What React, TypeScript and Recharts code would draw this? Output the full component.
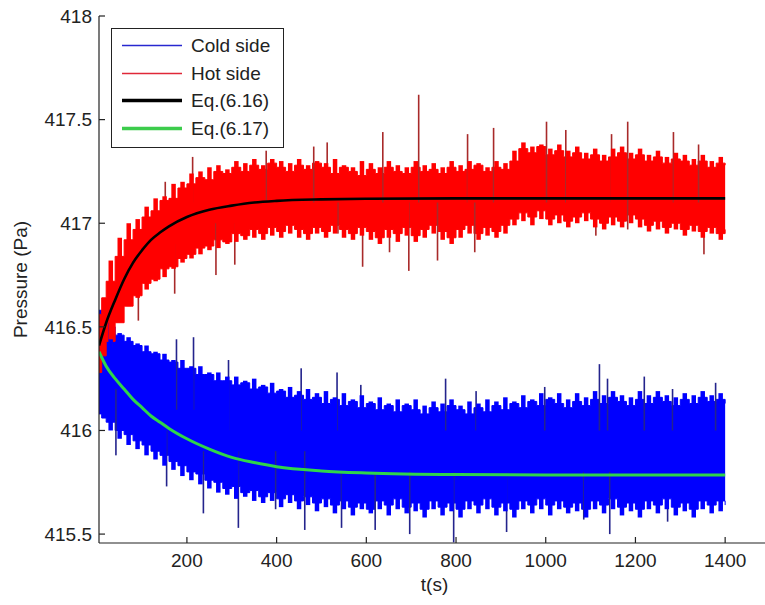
import React from 'react';
import { ComposedChart, Area, Line, Bar, XAxis, YAxis, Legend, Label } from 'recharts';

// ---- data ----
const envTimes = [4, 10, 20, 40, 60, 80, 100, 120, 140, 160, 180, 200, 220, 240, 260, 280, 300, 320, 340, 360, 380, 400, 420, 440, 460, 480, 500, 520, 540, 560, 580, 600, 620, 640, 660, 680, 700, 720, 740, 760, 780, 800, 820, 840, 860, 880, 900, 920, 940, 960, 980, 1000, 1020, 1040, 1060, 1080, 1100, 1120, 1140, 1160, 1180, 1200, 1220, 1240, 1260, 1280, 1300, 1320, 1340, 1360, 1380, 1400];

const hotHigh = [416.56, 416.64, 416.72, 416.84, 416.92, 416.97, 417.03, 417.06, 417.11, 417.12, 417.17, 417.19, 417.22, 417.21, 417.25, 417.24, 417.27, 417.25, 417.28, 417.26, 417.29, 417.27, 417.25, 417.28, 417.26, 417.29, 417.27, 417.24, 417.27, 417.25, 417.23, 417.26, 417.24, 417.27, 417.25, 417.24, 417.27, 417.25, 417.26, 417.24, 417.27, 417.25, 417.26, 417.28, 417.25, 417.27, 417.26, 417.30, 417.36, 417.34, 417.37, 417.33, 417.35, 417.32, 417.34, 417.31, 417.33, 417.30, 417.32, 417.34, 417.31, 417.33, 417.30, 417.32, 417.29, 417.31, 417.30, 417.28, 417.30, 417.27, 417.29, 417.28];
const hotLow = [416.28, 416.36, 416.43, 416.52, 416.60, 416.65, 416.71, 416.73, 416.78, 416.79, 416.83, 416.85, 416.88, 416.89, 416.92, 416.91, 416.95, 416.94, 416.97, 416.95, 416.98, 416.96, 416.99, 416.97, 416.95, 416.98, 416.96, 416.99, 416.97, 416.95, 416.98, 416.96, 416.93, 416.97, 416.95, 416.98, 416.94, 416.97, 416.99, 416.96, 416.93, 416.97, 416.99, 416.95, 416.98, 416.96, 416.99, 417.02, 417.05, 417.03, 417.06, 417.02, 417.04, 417.01, 417.03, 417.05, 417.02, 417.00, 417.03, 417.01, 417.04, 417.02, 416.99, 417.01, 416.98, 417.00, 416.97, 416.99, 416.96, 416.98, 416.95, 416.97];
const coldHigh = [416.58, 416.54, 416.50, 416.46, 416.43, 416.41, 416.38, 416.37, 416.34, 416.33, 416.30, 416.30, 416.27, 416.27, 416.24, 416.24, 416.22, 416.23, 416.20, 416.21, 416.18, 416.19, 416.16, 416.17, 416.15, 416.16, 416.13, 416.15, 416.12, 416.14, 416.11, 416.13, 416.10, 416.12, 416.09, 416.12, 416.10, 416.08, 416.11, 416.09, 416.12, 416.10, 416.08, 416.11, 416.09, 416.12, 416.10, 416.13, 416.11, 416.14, 416.12, 416.15, 416.13, 416.11, 416.14, 416.12, 416.15, 416.13, 416.16, 416.14, 416.12, 416.15, 416.13, 416.16, 416.14, 416.12, 416.15, 416.13, 416.16, 416.14, 416.15, 416.13];
const coldLow = [416.08, 416.06, 416.04, 416.00, 415.98, 415.95, 415.93, 415.90, 415.88, 415.85, 415.83, 415.80, 415.79, 415.76, 415.75, 415.72, 415.73, 415.70, 415.71, 415.68, 415.70, 415.67, 415.69, 415.66, 415.68, 415.65, 415.67, 415.64, 415.66, 415.63, 415.65, 415.62, 415.66, 415.64, 415.67, 415.63, 415.65, 415.62, 415.66, 415.63, 415.65, 415.62, 415.66, 415.64, 415.67, 415.63, 415.65, 415.62, 415.66, 415.64, 415.67, 415.64, 415.66, 415.63, 415.65, 415.62, 415.66, 415.64, 415.67, 415.63, 415.65, 415.62, 415.66, 415.64, 415.67, 415.63, 415.65, 415.62, 415.66, 415.64, 415.66, 415.64];

// in-between samples (ragged edge of the noisy bands)
const toothTimes = [30, 50, 70, 90, 110, 130, 150, 170, 190, 210, 230, 250, 270, 290, 310, 330, 350, 370, 390, 410, 430, 450, 470, 490, 510, 530, 550, 570, 590, 610, 630, 650, 670, 690, 710, 730, 750, 770, 790, 810, 830, 850, 870, 890, 910, 930, 950, 970, 990, 1010, 1030, 1050, 1070, 1090, 1110, 1130, 1150, 1170, 1190, 1210, 1230, 1250, 1270, 1290, 1310, 1330, 1350, 1370, 1390];
const hotToothHigh = [416.82, 416.93, 417.00, 417.02, 417.08, 417.12, 417.13, 417.19, 417.20, 417.24, 417.25, 417.27, 417.28, 417.26, 417.30, 417.29, 417.31, 417.28, 417.31, 417.30, 417.29, 417.31, 417.28, 417.30, 417.29, 417.31, 417.28, 417.27, 417.30, 417.29, 417.27, 417.30, 417.28, 417.27, 417.30, 417.28, 417.29, 417.27, 417.30, 417.28, 417.30, 417.29, 417.27, 417.30, 417.29, 417.35, 417.39, 417.37, 417.38, 417.36, 417.38, 417.35, 417.37, 417.34, 417.36, 417.33, 417.36, 417.37, 417.34, 417.36, 417.33, 417.35, 417.32, 417.34, 417.33, 417.31, 417.33, 417.30, 417.32];
const hotToothLow = [416.44, 416.53, 416.60, 416.64, 416.68, 416.72, 416.74, 416.78, 416.81, 416.83, 416.85, 416.87, 416.88, 416.90, 416.91, 416.92, 416.93, 416.92, 416.94, 416.93, 416.95, 416.93, 416.92, 416.95, 416.93, 416.95, 416.93, 416.92, 416.94, 416.92, 416.90, 416.93, 416.91, 416.94, 416.91, 416.93, 416.95, 416.92, 416.90, 416.93, 416.95, 416.92, 416.94, 416.93, 416.95, 416.99, 417.01, 416.99, 417.02, 416.99, 417.00, 416.98, 417.00, 417.01, 416.98, 416.97, 416.99, 416.98, 417.00, 416.98, 416.96, 416.97, 416.95, 416.97, 416.94, 416.96, 416.93, 416.95, 416.92];
const coldToothHigh = [416.52, 416.47, 416.45, 416.42, 416.41, 416.38, 416.37, 416.34, 416.34, 416.31, 416.31, 416.28, 416.28, 416.26, 416.26, 416.24, 416.25, 416.22, 416.23, 416.20, 416.21, 416.19, 416.20, 416.18, 416.19, 416.16, 416.18, 416.15, 416.17, 416.14, 416.16, 416.13, 416.15, 416.13, 416.15, 416.12, 416.14, 416.13, 416.15, 416.12, 416.14, 416.13, 416.15, 416.14, 416.16, 416.14, 416.17, 416.15, 416.18, 416.16, 416.18, 416.15, 416.18, 416.16, 416.19, 416.17, 416.19, 416.17, 416.16, 416.19, 416.17, 416.19, 416.17, 416.16, 416.18, 416.17, 416.19, 416.17, 416.18];
const coldToothLow = [416.00, 415.96, 415.93, 415.91, 415.88, 415.86, 415.83, 415.81, 415.78, 415.76, 415.74, 415.72, 415.70, 415.69, 415.67, 415.68, 415.66, 415.65, 415.66, 415.63, 415.65, 415.62, 415.64, 415.61, 415.63, 415.60, 415.62, 415.59, 415.62, 415.60, 415.62, 415.59, 415.62, 415.60, 415.61, 415.58, 415.62, 415.59, 415.61, 415.58, 415.62, 415.60, 415.62, 415.59, 415.61, 415.58, 415.62, 415.60, 415.62, 415.59, 415.62, 415.60, 415.61, 415.58, 415.62, 415.60, 415.62, 415.59, 415.61, 415.58, 415.62, 415.60, 415.62, 415.59, 415.61, 415.58, 415.62, 415.60, 415.61];

const fitTimes = [4, 20, 40, 60, 80, 100, 120, 140, 160, 200, 250, 300, 350, 400, 500, 600, 800, 1000, 1200, 1400];
const eq616 = [416.41, 416.52, 416.63, 416.73, 416.81, 416.87, 416.92, 416.955, 416.985, 417.03, 417.065, 417.085, 417.1, 417.108, 417.115, 417.118, 417.12, 417.12, 417.12, 417.12];
const eq617 = [416.38, 416.31, 416.25, 416.2, 416.15, 416.11, 416.07, 416.04, 416.01, 415.96, 415.91, 415.87, 415.845, 415.825, 415.805, 415.795, 415.787, 415.785, 415.785, 415.785];

const hotSpikeT = [33, 92, 152, 173, 213, 265, 307, 377, 483, 513, 537, 592, 637, 652, 695, 717, 759, 826, 842, 884, 1002, 1045, 1112, 1147, 1183, 1285, 1341, 1353];
const hotSpikeLow = [416.4, 416.53, 417.0, 416.66, 417.1, 416.75, 416.8, 417.1, 417.1, 417.1, 416.95, 416.79, 417.1, 416.86, 416.77, 417.1, 416.82, 417.1, 416.86, 417.1, 417.1, 417.1, 416.94, 417.1, 416.97, 417.1, 417.1, 416.85];
const hotSpikeHigh = [416.8, 416.95, 417.2, 416.9, 417.32, 417.0, 417.0, 417.35, 417.37, 417.39, 417.1, 417.1, 417.44, 417.1, 417.1, 417.62, 417.1, 417.43, 417.1, 417.46, 417.49, 417.45, 417.1, 417.43, 417.49, 417.44, 417.38, 417.1];

const coldSpikeT = [42, 155, 177, 215, 237, 293, 315, 398, 455, 463, 535, 545, 588, 620, 697, 777, 795, 845, 913, 998, 1085, 1120, 1138, 1143, 1220, 1272, 1283, 1379, 1393];
const coldSpikeLow = [415.88, 415.73, 416.1, 416.1, 415.6, 416.0, 415.53, 415.62, 416.0, 415.52, 416.0, 415.53, 416.0, 415.52, 415.5, 416.0, 415.46, 416.0, 415.51, 416.0, 415.57, 416.0, 416.0, 415.5, 416.0, 415.56, 416.0, 416.0, 415.62];
const coldSpikeHigh = [416.2, 416.0, 416.44, 416.45, 415.9, 416.34, 415.9, 415.9, 416.3, 415.9, 416.28, 415.8, 416.22, 415.8, 415.8, 416.25, 415.8, 416.19, 415.8, 416.21, 415.8, 416.32, 416.25, 415.8, 416.26, 415.8, 416.2, 416.23, 415.8];

const xTicks = [200, 400, 600, 800, 1000, 1200, 1400];
const yTicks = [415.5, 416, 416.5, 417, 417.5, 418];
const legendNames = ['Cold side', 'Hot side', 'Eq.(6.16)', 'Eq.(6.17)'];
const legendColors = ['#2828d0', '#e02838', '#000000', '#3ccc4c'];
const legendWidths = [1.5, 1.5, 3.5, 3.5];

const HOT = '#ff0000';
const COLD = '#0000ff';
const HOT_SPIKE = '#a82a2a';
const COLD_SPIKE = '#24248c';
const FONT = '"Liberation Sans", Arial, sans-serif';

// ---- build table ----
type Row = { t: number; [k: string]: any };
const rowMap = new Map<number, Row>();
const getRow = (t: number): Row => {
  let r = rowMap.get(t);
  if (!r) { r = { t }; rowMap.set(t, r); }
  return r;
};
envTimes.forEach((t, i) => {
  const r = getRow(t);
  r.hotBand = [hotLow[i], hotHigh[i]];
  r.coldBand = [coldLow[i], coldHigh[i]];
});
toothTimes.forEach((t, i) => {
  const r = getRow(t);
  r.hotTooth = [hotToothLow[i], hotToothHigh[i]];
  r.coldTooth = [coldToothLow[i], coldToothHigh[i]];
});
fitTimes.forEach((t, i) => {
  const r = getRow(t);
  r.eq616 = eq616[i];
  r.eq617 = eq617[i];
});
hotSpikeT.forEach((t, i) => {
  const r = getRow(t);
  r.spike = [hotSpikeLow[i], hotSpikeHigh[i]];
  r.spikeColor = HOT_SPIKE;
});
coldSpikeT.forEach((t, i) => {
  const r = getRow(t);
  r.spike = [coldSpikeLow[i], coldSpikeHigh[i]];
  r.spikeColor = COLD_SPIKE;
});
const data = Array.from(rowMap.values()).sort((a, b) => a.t - b.t);

const fmt = (v: number) => String(v);

// vertical stroke of fixed pixel width centred on the sample's x, spanning the scaled range
const makeStroke = (w: number, color?: string) => (p: any) => {
  if (p == null || !isFinite(p.x) || !isFinite(p.y) || !isFinite(p.height)) return <g />;
  const fill = color || (p.payload && p.payload.spikeColor) || '#000';
  const cx = p.x + (p.width || 0) / 2;
  const y = p.height < 0 ? p.y + p.height : p.y;
  const h = Math.abs(p.height);
  return <rect x={cx - w / 2} y={y} width={w} height={h} fill={fill} />;
};
const spikeShape = makeStroke(1.6);
const hotToothShape = makeStroke(4.5, HOT);
const coldToothShape = makeStroke(4.5, COLD);

const LeftTick = (p: any) => (
  <g>
    <line x1={p.x} x2={p.x + 6} y1={p.y} y2={p.y} stroke="#222" strokeWidth={1.2} />
    <text x={p.x - 7} y={p.y} dy="0.36em" textAnchor="end" fontSize={19} fontFamily={FONT} fill="#222">
      {fmt(p.payload.value)}
    </text>
  </g>
);
const RightTick = (p: any) => (
  <line x1={p.x} x2={p.x - 6} y1={p.y} y2={p.y} stroke="#222" strokeWidth={1.2} />
);
const BottomTick = (p: any) => (
  <g>
    <line x1={p.x} x2={p.x} y1={p.y} y2={p.y - 6} stroke="#222" strokeWidth={1.2} />
    <text x={p.x} y={p.y + 24} textAnchor="middle" fontSize={19} fontFamily={FONT} fill="#222">
      {fmt(p.payload.value)}
    </text>
  </g>
);
const TopTick = (p: any) => (
  <line x1={p.x} x2={p.x} y1={p.y} y2={p.y + 6} stroke="#222" strokeWidth={1.2} />
);

const LegendBox = () => (
  <div style={{ width: 171, height: 118, border: '1.2px solid #222', background: '#fff', position: 'relative', fontFamily: FONT }}>
    {legendNames.map((n, i) => (
      <div key={n} style={{ position: 'absolute', left: 0, top: 3 + i * 27.6, height: 27, width: 171 }}>
        <svg width={70} height={27} style={{ position: 'absolute', left: 0, top: 0 }}>
          <line x1={10} x2={70} y1={13.5} y2={13.5} stroke={legendColors[i]} strokeWidth={legendWidths[i]} />
        </svg>
        <span style={{ position: 'absolute', left: 79, top: 1, fontSize: 19, lineHeight: '26px', color: '#222', whiteSpace: 'nowrap' }}>{n}</span>
      </div>
    ))}
  </div>
);

const YLabel = (props: any) => {
  const vb = props.viewBox || {};
  const cy = vb.y + vb.height / 2;
  return (
    <text x={20} y={cy} transform={`rotate(-90, 20, ${cy})`} textAnchor="middle" dominantBaseline="central" fontSize={19} fontFamily={FONT} fill="#222">
      Pressure (Pa)
    </text>
  );
};

export default function App() {
  return (
    <div style={{ position: 'absolute', left: 0, top: 0, width: 765, height: 605, overflow: 'hidden', background: '#fff' }}>
      <ComposedChart width={772} height={605} data={data} margin={{ top: 16, right: 2, bottom: 0, left: 0 }} barGap={0}>
        <XAxis dataKey="t" type="number" domain={[4, 1500]} ticks={xTicks} allowDataOverflow
          height={62} tickSize={0} tickMargin={0} tick={<BottomTick />} axisLine={{ stroke: '#222', strokeWidth: 1.2 }} interval={0}>
          <Label value="t(s)" position="insideBottom" offset={14} fontSize={19} fontFamily={FONT} fill="#222" />
        </XAxis>
        <XAxis xAxisId="top" dataKey="t" type="number" orientation="top" domain={[4, 1500]} ticks={xTicks} allowDataOverflow
          height={0} tickSize={0} tickMargin={0} tick={<TopTick />} axisLine={{ stroke: '#222', strokeWidth: 1.2 }} interval={0} />
        <YAxis type="number" domain={[415.457, 418]} ticks={yTicks} allowDataOverflow width={99}
          tickSize={0} tickMargin={0} tick={<LeftTick />} axisLine={{ stroke: '#222', strokeWidth: 1.2 }} interval={0}>
          <Label content={<YLabel />} />
        </YAxis>
        <YAxis yAxisId="right" type="number" orientation="right" domain={[415.457, 418]} ticks={yTicks} allowDataOverflow width={0}
          tickSize={0} tickMargin={0} tick={<RightTick />} axisLine={{ stroke: '#222', strokeWidth: 1.2 }} interval={0} />
        <Legend layout="vertical" align="center" verticalAlign="middle" content={<LegendBox />}
          wrapperStyle={{ left: 111, top: 28, width: 173, height: 120 }} />
        <Bar dataKey="spike" shape={spikeShape} isAnimationActive={false} legendType="none" />
        <Bar dataKey="coldTooth" shape={coldToothShape} isAnimationActive={false} legendType="none" />
        <Bar dataKey="hotTooth" shape={hotToothShape} isAnimationActive={false} legendType="none" />
        <Area dataKey="coldBand" type="stepAfter" stroke={COLD} strokeWidth={1} fill={COLD} fillOpacity={1}
          connectNulls isAnimationActive={false} dot={false} activeDot={false} />
        <Area dataKey="hotBand" type="stepAfter" stroke={HOT} strokeWidth={1} fill={HOT} fillOpacity={1}
          connectNulls isAnimationActive={false} dot={false} activeDot={false} />
        <Line dataKey="eq616" type="monotone" stroke="#000" strokeWidth={2.6} dot={false} activeDot={false}
          connectNulls isAnimationActive={false} />
        <Line dataKey="eq617" type="monotone" stroke="#2fd54a" strokeWidth={3} dot={false} activeDot={false}
          connectNulls isAnimationActive={false} />
      </ComposedChart>
    </div>
  );
}
